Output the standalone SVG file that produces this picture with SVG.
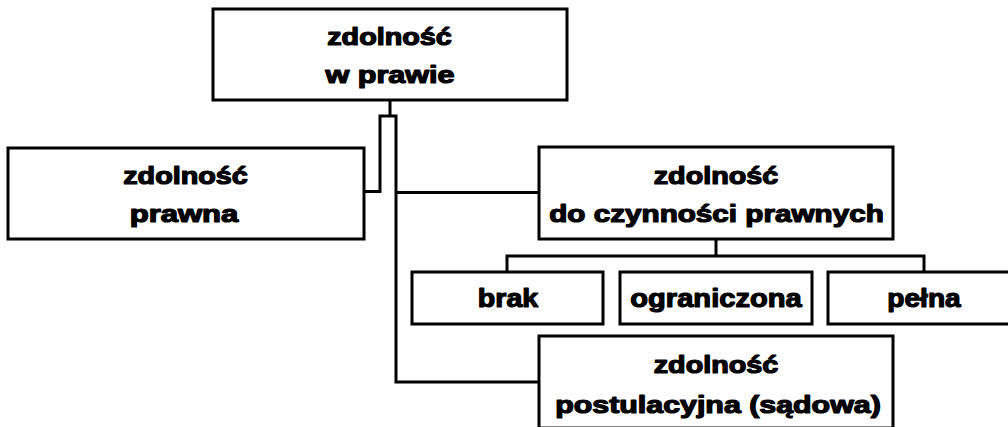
<svg xmlns="http://www.w3.org/2000/svg" width="1008" height="427" viewBox="0 0 1008 427">
<style>
.box{fill:#fff;stroke:#000;stroke-width:3}
.con{fill:none;stroke:#000;stroke-width:3;stroke-linecap:square;stroke-linejoin:miter}
.t{font-family:"Liberation Sans",Arial,sans-serif;font-weight:bold;fill:#000;stroke:#000;stroke-width:1.2;stroke-linejoin:round;font-size:23px;text-anchor:middle}
.s{font-size:26px}
</style>
<rect x="0" y="0" width="1008" height="427" fill="#fff"/>
<g id="connectors">
<path class="con" d="M390,100 V116 M380,116 H396 M380,116 V191.5 H364 M396,116 V382 H539 M396,192.5 H539"/>
<path class="con" d="M716,239 V256 M507,256 H924 M507,256 V272 M924,256 V272"/>
</g>
<g id="node-zdolnosc-w-prawie">
<rect class="box" x="213" y="9" width="354" height="91"/>
<text class="t" transform="translate(389.5,45) scale(1.25,1)">zdolność</text>
<text class="t" transform="translate(390,83) scale(1.33,1)">w prawie</text>
</g>
<g id="node-zdolnosc-prawna">
<rect class="box" x="8" y="148" width="356" height="91"/>
<text class="t" transform="translate(185.5,184) scale(1.25,1)">zdolność</text>
<text class="t" transform="translate(184,221.5) scale(1.35,1)">prawna</text>
</g>
<g id="node-zdolnosc-do-czynnosci">
<rect class="box" x="539" y="147" width="354" height="92"/>
<text class="t" transform="translate(716,184) scale(1.25,1)">zdolność</text>
<text class="t" transform="translate(716.5,221.5) scale(1.29,1)">do czynności prawnych</text>
</g>
<g id="node-brak">
<rect class="box" x="412" y="272" width="191" height="52"/>
<text class="t s" transform="translate(508,306.5) scale(1.1,1)">brak</text>
</g>
<g id="node-ograniczona">
<rect class="box" x="620" y="272" width="192" height="52"/>
<text class="t s" transform="translate(716,306.5) scale(1.12,1)">ograniczona</text>
</g>
<g id="node-pelna">
<rect class="box" x="828" y="272" width="191" height="52"/>
<text class="t s" transform="translate(924,306.5) scale(1.08,1)">pełna</text>
</g>
<g id="node-zdolnosc-postulacyjna">
<rect class="box" x="539" y="336" width="354" height="92"/>
<text class="t" transform="translate(716,373) scale(1.25,1)">zdolność</text>
<text class="t" transform="translate(718,413) scale(1.32,1)">postulacyjna (sądowa)</text>
</g>
</svg>
